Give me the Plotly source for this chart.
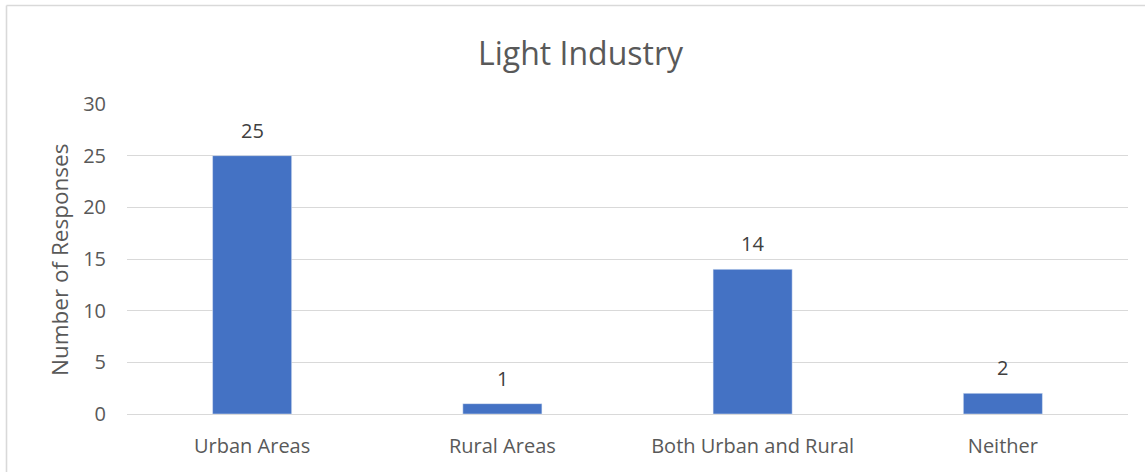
import plotly.graph_objects as go

categories = ["Urban Areas", "Rural Areas", "Both Urban and Rural", "Neither"]
values = [25, 1, 14, 2]
y_ticks = [0, 5, 10, 15, 20, 25, 30]

W, H = 1145, 472
L, T = 127, 104
R = W - 1128
B = H - 414
pw, ph = W - L - R, H - T - B

font_family = "Open Sans, sans-serif"
txt = "#595959"
border = "#d9d9d9"


def px_x(p):
    return (p - L) / pw


def px_y(p):
    return (H - B - p) / ph


fig = go.Figure(go.Bar(
    x=categories, y=values, marker_color="#4472C4", width=0.316,
    hoverinfo="x+y",
))

annotations = [
    dict(x=c, y=v, xref="x", yref="y", text=str(v), showarrow=False,
         yanchor="bottom", yshift=10,
         font=dict(size=20, color="#404040", family=font_family))
    for c, v in zip(categories, values)
]
annotations.append(dict(
    x=px_x(59), y=px_y(260), xref="paper", yref="paper", text="Number of Responses",
    textangle=-90, showarrow=False, xanchor="center", yanchor="middle",
    font=dict(size=22.5, color=txt, family=font_family)))
annotations.append(dict(
    x=px_x(581), y=px_y(52), xref="paper", yref="paper", text="Light Industry",
    showarrow=False, xanchor="center", yanchor="middle",
    font=dict(size=32, color=txt, family=font_family)))

fig.update_layout(
    width=W, height=H,
    margin=dict(l=L, r=R, t=T, b=B, autoexpand=False),
    paper_bgcolor="white", plot_bgcolor="white",
    xaxis=dict(showline=True, linecolor=border, linewidth=1, ticks="",
               ticklabelstandoff=14, automargin=False,
               tickfont=dict(size=20, color=txt, family=font_family)),
    yaxis=dict(range=[0, 30], tickvals=y_ticks, showgrid=True, gridcolor=border,
               zeroline=False, ticks="", ticklabelstandoff=20, automargin=False,
               tickfont=dict(size=20, color=txt, family=font_family)),
    showlegend=False,
    annotations=annotations,
    shapes=[
        dict(type="line", xref="paper", yref="paper",
             x0=px_x(6.5), x1=px_x(W), y0=px_y(5.5), y1=px_y(5.5),
             line=dict(color=border, width=1.6)),
        dict(type="line", xref="paper", yref="paper",
             x0=px_x(6.5), x1=px_x(6.5), y0=px_y(5.5), y1=px_y(H),
             line=dict(color=border, width=1.6)),
    ],
)

fig.write_html("out.html", config={"displayModeBar": False},
               post_script="document.body.style.margin='0';document.body.style.overflow='hidden';")
